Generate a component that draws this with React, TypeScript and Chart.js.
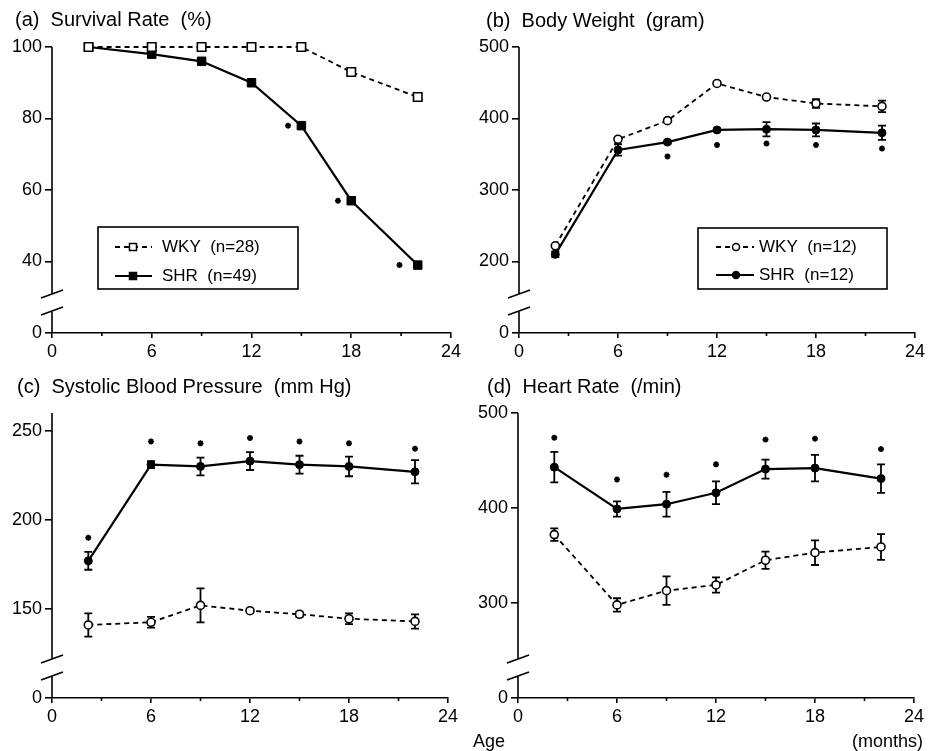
import React, { useEffect, useRef } from 'react';
import { Chart, registerables } from 'chart.js';

Chart.register(...registerables);

const FONT = '"Liberation Sans", Arial, Helvetica, sans-serif';

// ---- shared x values (age, months) ----
const ageMonths = [2.2, 6, 9, 12, 15, 18, 22];
const xMinorTicks = [3, 9, 15, 21];

// ---- (a) Survival rate (%) ----
const survivalWKY = [100, 100, 100, 100, 100, 93, 86];
const survivalSHR = [100, 98, 96, 90, 78, 57, 39];
const survivalStarX = [14.2, 17.2, 20.9];
const survivalStarY = [78, 57, 39];
const survivalTicks = [40, 60, 80, 100];

// ---- (b) Body weight (gram) ----
const weightWKY = [222, 371, 397, 449, 430, 421, 417];
const weightWKYErr = [2, 2, 2, 2, 2, 6, 8];
const weightSHR = [210, 356, 367, 384, 385, 384, 380];
const weightSHRErr = [4, 8, 2, 2, 10, 9, 10];
const weightStarX = [9, 12, 15, 18, 22];
const weightStarY = [347, 363, 365, 363, 358];
const weightTicks = [200, 300, 400, 500];

// ---- (c) Systolic blood pressure (mm Hg) ----
const bpSHR = [177, 231, 230, 233, 231, 230, 227];
const bpSHRErr = [5, 2, 5, 5, 5, 5.5, 6.5];
const bpWKY = [141, 142.5, 152, 149, 147, 144.5, 143];
const bpWKYErr = [6.5, 3, 9.5, 1, 1.5, 3, 4];
const bpStarX = [2.2, 6, 9, 12, 15, 18, 22];
const bpStarY = [190, 244, 243, 246, 244, 243, 240];
const bpTicks = [150, 200, 250];

// ---- (d) Heart rate (/min) ----
const hrSHR = [443, 399, 404, 416, 441, 442, 431];
const hrSHRErr = [16, 8, 13, 12, 10, 14, 15];
const hrWKY = [372, 298, 313, 319, 345, 353, 359];
const hrWKYErr = [6.5, 7, 15, 8, 9, 13, 13.5];
const hrStarX = [2.2, 6, 9, 12, 15, 18, 22];
const hrStarY = [474, 430, 435, 446, 472, 473, 462];
const hrTicks = [300, 400, 500];

type LegendRow = { y: number; dashed: boolean; filled: boolean; text: string };
type LegendCfg = {
  box: [number, number, number, number];
  x1: number; x2: number; mx: number; textX: number; mr: number;
  rows: LegendRow[];
};
type PanelCfg = {
  left: number; top: number; width: number; height: number;
  areaLeft: number; areaRight: number; areaTop: number; areaBottom: number;
  yBreakMin: number; yMax: number; yTicks: number[];
  wky: number[]; shr: number[]; wkyErr?: number[]; shrErr?: number[];
  starX: number[]; starY: number[];
  marker: 'rect' | 'circle'; markerR: number;
  title: string; titleX: number; titleY: number;
  legend?: LegendCfg;
  extras?: { text: string; x: number; y: number; align: CanvasTextAlign }[];
};

const panels: PanelCfg[] = [
  {
    left: 0, top: 0, width: 464, height: 370,
    areaLeft: 52, areaRight: 451, areaTop: 47, areaBottom: 333,
    yBreakMin: 20, yMax: 100, yTicks: survivalTicks,
    wky: survivalWKY, shr: survivalSHR,
    starX: survivalStarX, starY: survivalStarY,
    marker: 'rect', markerR: 6,
    title: '(a)  Survival Rate  (%)', titleX: 15, titleY: 20,
    legend: {
      box: [98, 227, 200, 62], x1: 115, x2: 152, mx: 133, textX: 162, mr: 3.5,
      rows: [
        { y: 247, dashed: true, filled: false, text: 'WKY  (n=28)' },
        { y: 276, dashed: false, filled: true, text: 'SHR  (n=49)' },
      ],
    },
  },
  {
    left: 464, top: 0, width: 464, height: 370,
    areaLeft: 55, areaRight: 452, areaTop: 47, areaBottom: 333,
    yBreakMin: 100, yMax: 500, yTicks: weightTicks,
    wky: weightWKY, shr: weightSHR, wkyErr: weightWKYErr, shrErr: weightSHRErr,
    starX: weightStarX, starY: weightStarY,
    marker: 'circle', markerR: 4,
    title: '(b)  Body Weight  (gram)', titleX: 22, titleY: 21,
    legend: {
      box: [234, 228, 189, 61], x1: 252, x2: 290, mx: 272, textX: 295, mr: 3.5,
      rows: [
        { y: 247, dashed: true, filled: false, text: 'WKY  (n=12)' },
        { y: 275, dashed: false, filled: true, text: 'SHR  (n=12)' },
      ],
    },
  },
  {
    left: 0, top: 370, width: 464, height: 381,
    areaLeft: 52, areaRight: 448, areaTop: 43, areaBottom: 328,
    yBreakMin: 100, yMax: 260, yTicks: bpTicks,
    wky: bpWKY, shr: bpSHR, wkyErr: bpWKYErr, shrErr: bpSHRErr,
    starX: bpStarX, starY: bpStarY,
    marker: 'circle', markerR: 4,
    title: '(c)  Systolic Blood Pressure  (mm Hg)', titleX: 17, titleY: 17,
  },
  {
    left: 464, top: 370, width: 464, height: 381,
    areaLeft: 54, areaRight: 450, areaTop: 43, areaBottom: 328,
    yBreakMin: 200, yMax: 500, yTicks: hrTicks,
    wky: hrWKY, shr: hrSHR, wkyErr: hrWKYErr, shrErr: hrSHRErr,
    starX: hrStarX, starY: hrStarY,
    marker: 'circle', markerR: 4,
    title: '(d)  Heart Rate  (/min)', titleX: 23, titleY: 17,
    extras: [
      { text: 'Age', x: 9, y: 372, align: 'left' },
      { text: '(months)', x: 459, y: 372, align: 'right' },
    ],
  },
];

function drawMarker(ctx: CanvasRenderingContext2D, kind: string, x: number, y: number, r: number, filled: boolean) {
  ctx.save();
  ctx.beginPath();
  if (kind === 'rect') ctx.rect(x - r, y - r, 2 * r, 2 * r);
  else ctx.arc(x, y, r, 0, Math.PI * 2);
  ctx.fillStyle = filled ? '#000' : '#fff';
  ctx.fill();
  ctx.lineWidth = 1.5;
  ctx.strokeStyle = '#000';
  ctx.stroke();
  ctx.restore();
}

function makePlugin(cfg: PanelCfg) {
  return {
    id: 'panelDeco',
    beforeDatasetsDraw(chart: any) {
      const ctx: CanvasRenderingContext2D = chart.ctx;
      const xs = chart.scales.x;
      const ys = chart.scales.y;
      ctx.save();
      ctx.strokeStyle = '#000';
      ctx.lineWidth = 1.8;
      const series: [number[], number[] | undefined][] = [[cfg.wky, cfg.wkyErr], [cfg.shr, cfg.shrErr]];
      for (const [vals, errs] of series) {
        if (!errs) continue;
        vals.forEach((v, i) => {
          const x = xs.getPixelForValue(ageMonths[i]);
          const y1 = ys.getPixelForValue(v - errs[i]);
          const y2 = ys.getPixelForValue(v + errs[i]);
          ctx.beginPath();
          ctx.moveTo(x, y1); ctx.lineTo(x, y2);
          ctx.moveTo(x - 4, y1); ctx.lineTo(x + 4, y1);
          ctx.moveTo(x - 4, y2); ctx.lineTo(x + 4, y2);
          ctx.stroke();
        });
      }
      ctx.restore();
    },
    afterDraw(chart: any) {
      const ctx: CanvasRenderingContext2D = chart.ctx;
      const area = chart.chartArea;
      const xs = chart.scales.x;
      ctx.save();
      ctx.strokeStyle = '#000';
      ctx.lineWidth = 1.6;
      // y axis with break
      const ax = area.left;
      const b1 = area.bottom - 39;
      const b2 = area.bottom - 22;
      ctx.beginPath();
      ctx.moveTo(ax, area.top); ctx.lineTo(ax, b1);
      ctx.moveTo(ax, b2); ctx.lineTo(ax, area.bottom);
      ctx.moveTo(ax - 11, b1 + 4); ctx.lineTo(ax + 11, b1 - 4);
      ctx.moveTo(ax - 11, b2 + 4); ctx.lineTo(ax + 11, b2 - 4);
      ctx.stroke();
      // minor x ticks
      ctx.beginPath();
      for (const m of xMinorTicks) {
        const x = xs.getPixelForValue(m);
        ctx.moveTo(x, area.bottom); ctx.lineTo(x, area.bottom + 3);
      }
      ctx.stroke();
      // title
      ctx.fillStyle = '#000';
      ctx.textBaseline = 'middle';
      ctx.textAlign = 'left';
      ctx.font = `20px ${FONT}`;
      ctx.fillText(cfg.title, cfg.titleX, cfg.titleY);
      // legend
      const lg = cfg.legend;
      if (lg) {
        const [bx, by, bw, bh] = lg.box;
        ctx.fillStyle = '#fff';
        ctx.fillRect(bx, by, bw, bh);
        ctx.lineWidth = 1.6;
        ctx.strokeRect(bx, by, bw, bh);
        for (const row of lg.rows) {
          ctx.beginPath();
          ctx.setLineDash(row.dashed ? [5, 4] : []);
          ctx.lineWidth = row.dashed ? 1.8 : 2.2;
          ctx.moveTo(lg.x1, row.y); ctx.lineTo(lg.x2, row.y);
          ctx.stroke();
          ctx.setLineDash([]);
          drawMarker(ctx, cfg.marker, lg.mx, row.y, lg.mr, row.filled);
          ctx.fillStyle = '#000';
          ctx.font = `17px ${FONT}`;
          ctx.textAlign = 'left';
          ctx.fillText(row.text, lg.textX, row.y);
        }
      }
      // extra labels
      if (cfg.extras) {
        ctx.font = `18px ${FONT}`;
        ctx.fillStyle = '#000';
        for (const e of cfg.extras) {
          ctx.textAlign = e.align;
          ctx.fillText(e.text, e.x, e.y);
        }
      }
      ctx.restore();
    },
  };
}

const pts = (ys: number[], xs: number[] = ageMonths) => ys.map((y, i) => ({ x: xs[i], y }));

function buildConfig(cfg: PanelCfg): any {
  const tickFont = { family: FONT, size: 18 };
  return {
    type: 'line',
    data: {
      datasets: [
        {
          label: 'WKY', data: pts(cfg.wky), borderColor: '#000', borderWidth: 1.8, borderDash: [5, 4],
          pointStyle: cfg.marker, pointRadius: cfg.markerR, pointBackgroundColor: '#fff',
          pointBorderColor: '#000', pointBorderWidth: 1.6, clip: false, tension: 0,
        },
        {
          label: 'SHR', data: pts(cfg.shr), borderColor: '#000', borderWidth: 2.2,
          pointStyle: cfg.marker, pointRadius: cfg.markerR, pointBackgroundColor: '#000',
          pointBorderColor: '#000', pointBorderWidth: 1, clip: false, tension: 0,
        },
        {
          label: 'p<0.05', data: pts(cfg.starY, cfg.starX), showLine: false, pointStyle: 'star',
          pointRadius: 3, pointBorderColor: '#000', pointBackgroundColor: '#000', pointBorderWidth: 1.7,
          clip: false,
        },
      ],
    },
    options: {
      responsive: false,
      animation: false,
      events: [],
      layout: { padding: { left: 0, top: cfg.areaTop, right: cfg.width - cfg.areaRight, bottom: 0 } },
      plugins: { legend: { display: false }, tooltip: { enabled: false }, title: { display: false } },
      scales: {
        x: {
          type: 'linear', min: 0, max: 24, position: 'bottom',
          ticks: { stepSize: 6, color: '#000', font: tickFont, padding: 3, maxRotation: 0, autoSkip: false },
          grid: { drawOnChartArea: false, drawTicks: true, tickLength: 5, color: '#000', lineWidth: 1.6 },
          border: { display: true, color: '#000', width: 1.6 },
          afterFit: (s: any) => { s.height = cfg.height - cfg.areaBottom; },
        },
        y: {
          type: 'linear', min: cfg.yBreakMin, max: cfg.yMax,
          afterBuildTicks: (s: any) => { s.ticks = [cfg.yBreakMin, ...cfg.yTicks].map((v) => ({ value: v })); },
          ticks: {
            autoSkip: false, color: '#000', font: tickFont, padding: 3,
            callback: (v: number) => (v === cfg.yBreakMin ? '0' : String(v)),
          },
          grid: { drawOnChartArea: false, drawTicks: true, tickLength: 7, color: '#000', lineWidth: 1.6 },
          border: { display: false },
          afterFit: (s: any) => { s.width = cfg.areaLeft; },
        },
      },
    },
    plugins: [makePlugin(cfg)],
  };
}

function Panel({ cfg }: { cfg: PanelCfg }) {
  const ref = useRef<HTMLCanvasElement>(null);
  useEffect(() => {
    if (!ref.current) return;
    const chart = new Chart(ref.current, buildConfig(cfg));
    return () => chart.destroy();
  }, [cfg]);
  return (
    <canvas
      ref={ref}
      width={cfg.width}
      height={cfg.height}
      style={{ position: 'absolute', left: cfg.left, top: cfg.top, width: cfg.width, height: cfg.height, display: 'block' }}
    />
  );
}

export default function App() {
  return (
    <div style={{ position: 'absolute', left: 0, top: 0, width: 928, height: 751, background: '#fff', overflow: 'hidden' }}>
      {panels.map((p, i) => (
        <Panel key={i} cfg={p} />
      ))}
    </div>
  );
}
